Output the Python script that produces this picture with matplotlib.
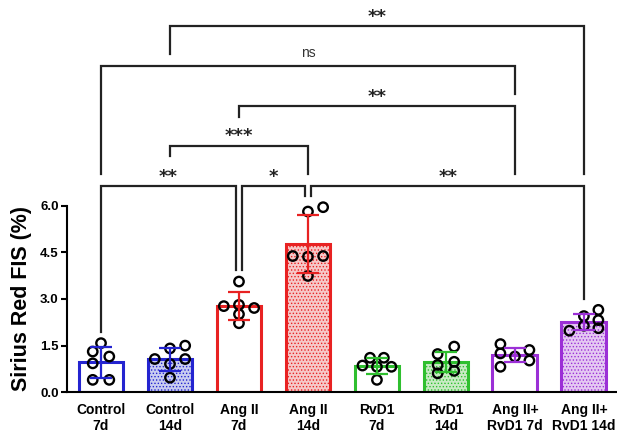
import matplotlib
matplotlib.use("Agg")
import matplotlib.pyplot as plt
import numpy as np

plt.rcParams['font.family'] = ['Liberation Sans', 'DejaVu Sans']

categories = ["Control\n7d", "Control\n14d", "Ang II\n7d", "Ang II\n14d",
              "RvD1\n7d", "RvD1\n14d", "Ang II+\nRvD1 7d", "Ang II+\nRvD1 14d"]
means = [0.96, 1.07, 2.76, 4.77, 0.85, 0.98, 1.19, 2.27]
sds = [0.50, 0.37, 0.45, 0.92, 0.26, 0.33, 0.23, 0.26]
points = [
    [1.58, 1.31, 1.15, 0.93, 0.40, 0.40],
    [1.07, 1.41, 1.50, 0.91, 1.07, 0.47],
    [3.56, 2.77, 2.81, 2.71, 2.51, 2.22],
    [5.81, 5.95, 4.38, 4.36, 4.38, 3.74],
    [0.86, 1.11, 0.82, 1.11, 0.82, 0.40],
    [1.23, 1.47, 0.88, 0.98, 0.69, 0.61],
    [1.55, 1.25, 1.15, 1.36, 1.02, 0.82],
    [2.45, 2.65, 2.32, 2.14, 2.06, 1.98],
]
jitter = [
    [0.0, -0.12, 0.12, -0.12, -0.12, 0.12],
    [-0.22, 0.0, 0.22, 0.0, 0.22, 0.0],
    [0.0, -0.22, 0.0, 0.22, 0.0, 0.0],
    [0.0, 0.22, -0.22, 0.0, 0.22, 0.0],
    [-0.21, -0.1, 0.0, 0.1, 0.21, 0.0],
    [-0.12, 0.12, -0.12, 0.12, 0.12, -0.12],
    [-0.21, -0.21, 0.0, 0.21, 0.21, -0.21],
    [0.0, 0.21, 0.21, 0.0, 0.21, -0.21],
]
colors = ["#2424d0", "#2424d0", "#e82222", "#e82222",
          "#2fbf2f", "#2fbf2f", "#9b30d6", "#9b30d6"]
fills = ["white", "#c9cdf0", "white", "#f6c8c8",
         "white", "#c8ebc4", "white", "#e4c8f2"]
hatched = [False, True, False, True, False, True, False, True]

# significance brackets: (x1, x2, y_top, y_leg1, y_leg2, label, dx1, dx2)
brackets = [
    (0, 2, 6.64, 1.95, 3.93, "**", 0.0, -0.05),
    (2, 3, 6.64, 3.93, 6.31, "*", 0.05, -0.05),
    (3, 7, 6.64, 6.31, 2.99, "**", 0.05, 0.0),
    (1, 3, 7.93, 7.60, 7.01, "***", 0.0, 0.0),
    (2, 6, 9.21, 8.86, 7.01, "**", 0.0, 0.0),
    (0, 6, 10.49, 7.01, 9.58, "ns", 0.0, 0.0),
    (1, 7, 11.78, 10.88, 7.01, "**", 0.0, 0.0),
]

fig = plt.figure(figsize=(6.17, 4.34), dpi=100)
ax = fig.add_axes([67 / 617, 41.7 / 434, 550 / 617, 392.3 / 434])

x = np.arange(len(categories))
plt.rcParams['hatch.linewidth'] = 0.6
for i in x:
    ax.bar(i, means[i], width=0.65, facecolor=fills[i], edgecolor=colors[i],
           linewidth=2.2, hatch='.....' if hatched[i] else None, zorder=2)
    ax.scatter(np.array(jitter[i]) + i, points[i], s=46, facecolor='none',
               edgecolor='black', linewidth=1.7, zorder=3)
    ax.errorbar(i, means[i], yerr=sds[i], color=colors[i], capsize=8,
                capthick=1.6, elinewidth=1.6, zorder=4)

for (a, b, yt, y1, y2, lab, d1, d2) in brackets:
    xa, xb = a + d1, b + d2
    ax.plot([xa, xa, xb, xb], [y1, yt, yt, y2], color='#222222', lw=1.6,
            zorder=1, solid_joinstyle='miter', clip_on=False)
    if lab == "ns":
        ax.text((xa + xb) / 2, yt + 0.43, lab, ha='center', va='center',
                fontsize=10, color='#333333')
    else:
        ax.text((xa + xb) / 2, yt + 0.36, lab, ha='center', va='center_baseline',
                fontsize=13, fontweight='bold', color='#222222',
                family='DejaVu Sans')

ax.set_xlim(-0.493, 7.48)
ax.set_ylim(0, 12.61)
ax.set_yticks([0, 1.5, 3.0, 4.5, 6.0])
ax.set_yticklabels(["0.0", "1.5", "3.0", "4.5", "6.0"], fontweight='bold', fontsize=9.5)
ax.set_xticks(x)
ax.set_xticklabels(categories, fontweight='bold', fontsize=10, linespacing=1.1)
ax.tick_params(axis='x', length=0, pad=8)
ax.tick_params(axis='y', length=4, width=1.5, pad=2)
ax.spines['top'].set_visible(False)
ax.spines['right'].set_visible(False)
ax.spines['left'].set_bounds(0, 6.0)
ax.spines['left'].set_linewidth(1.5)
ax.spines['bottom'].set_linewidth(1.5)
ax.set_ylabel("Sirius Red FIS (%)", fontweight='bold', fontsize=15.5)
ax.yaxis.set_label_coords(-0.064, 0.24)

fig.savefig("out.png", dpi=100)
